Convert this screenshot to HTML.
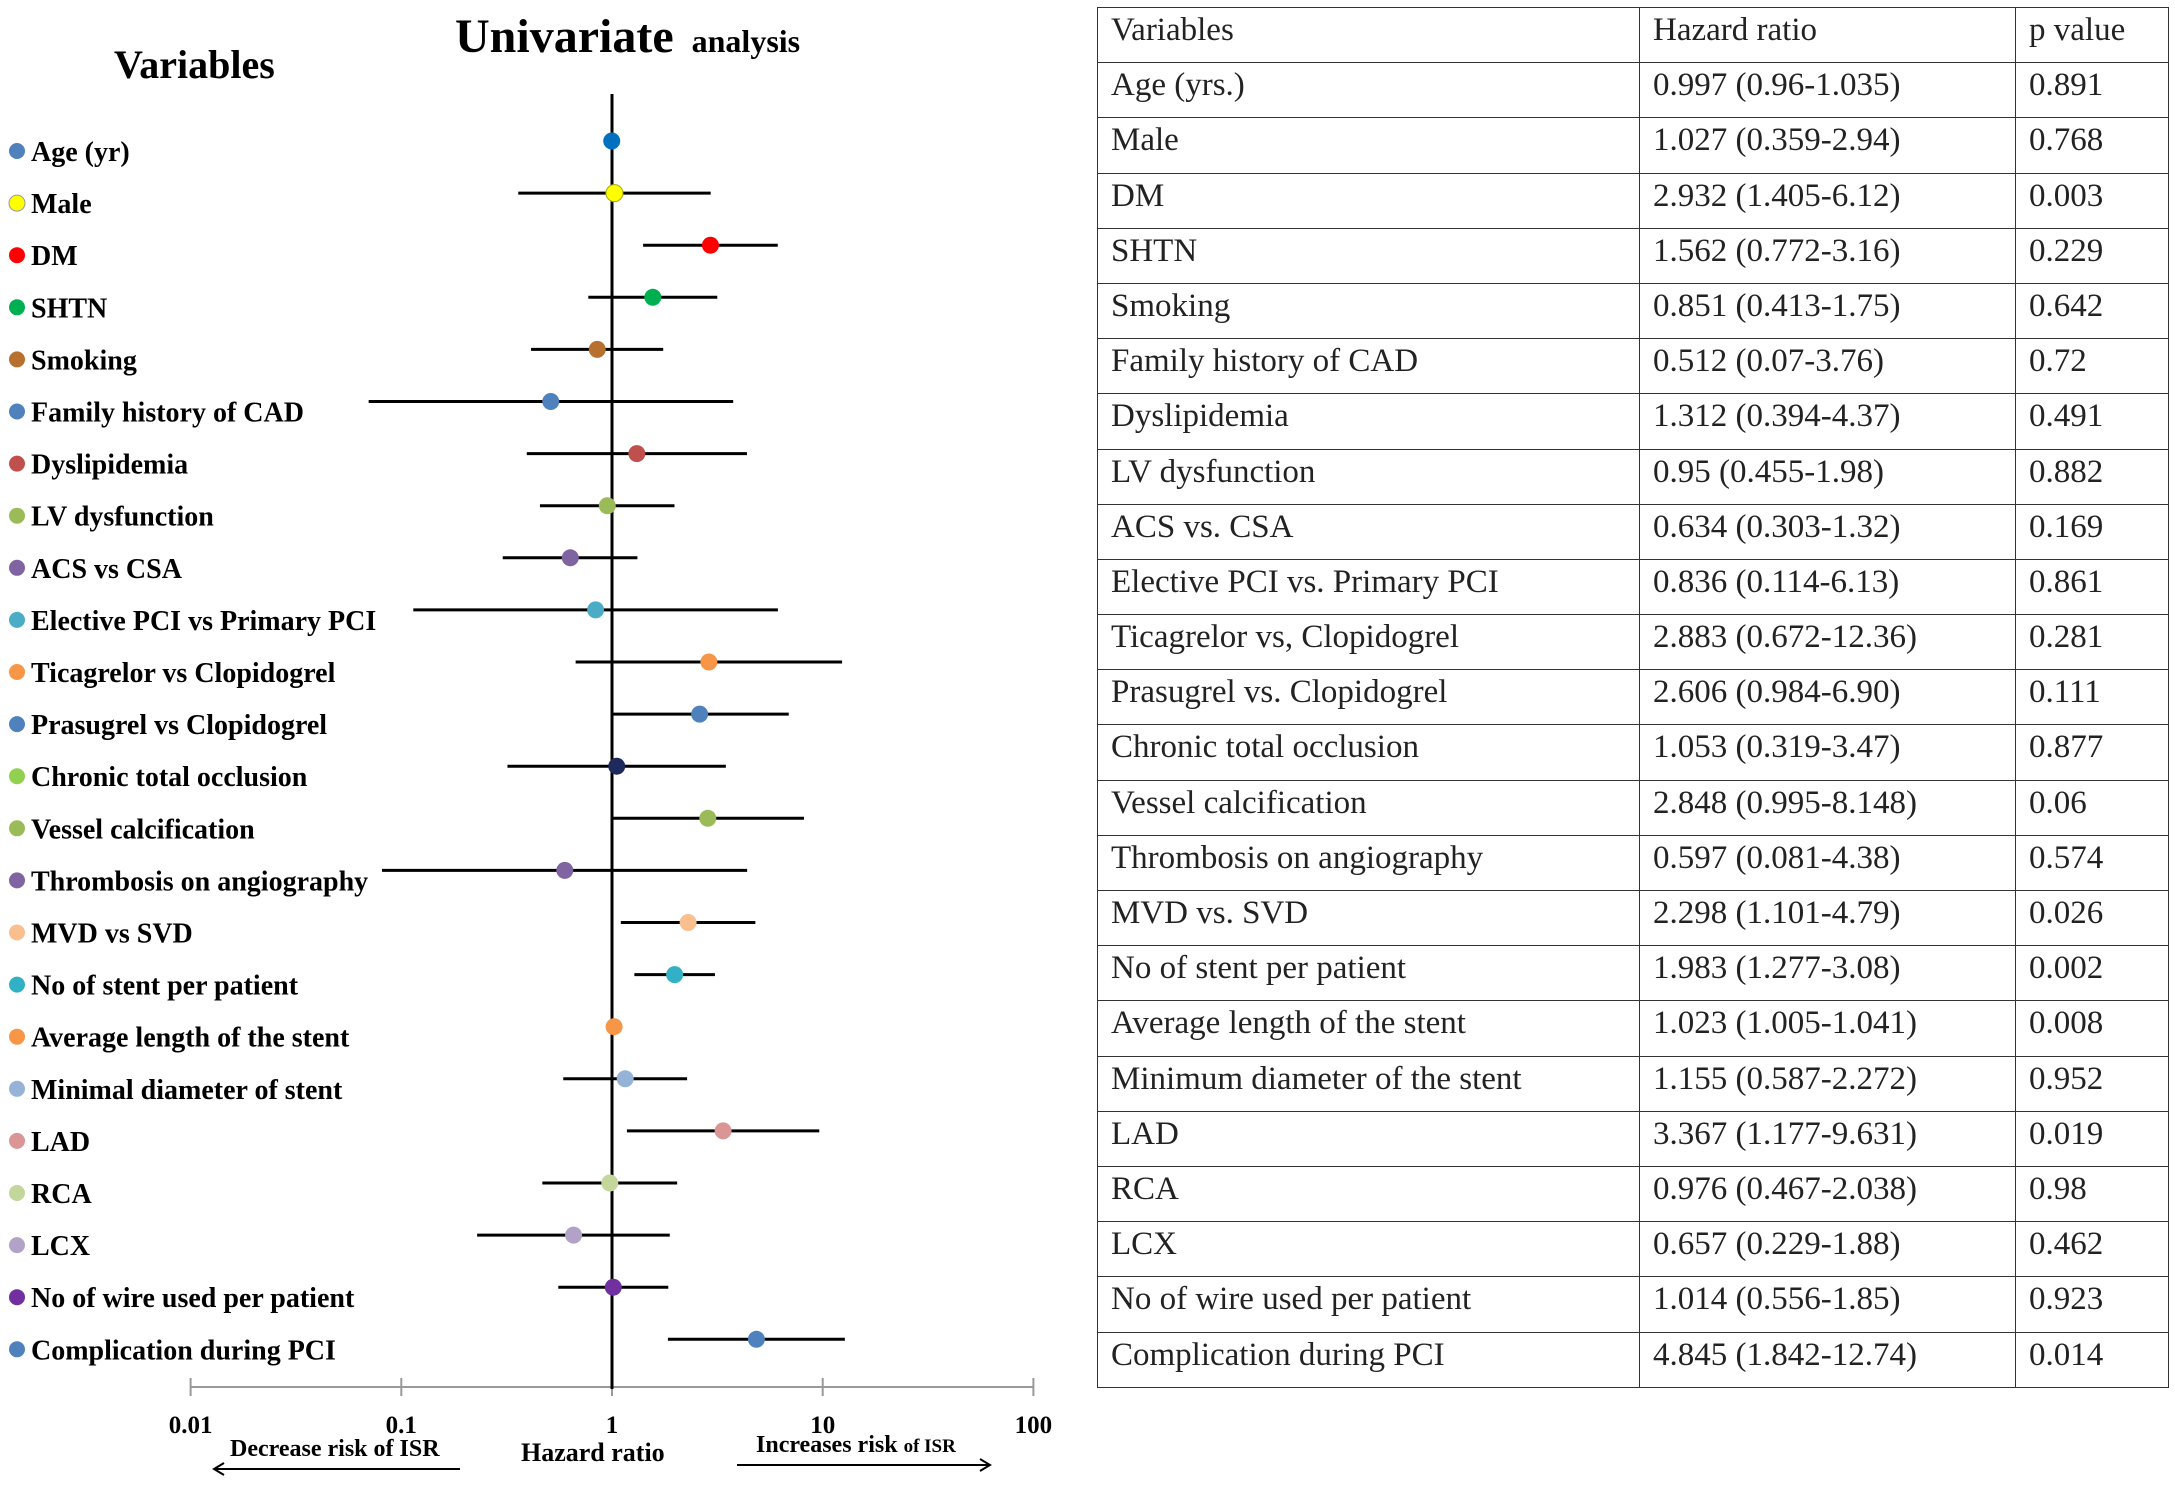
<!DOCTYPE html>
<html><head><meta charset="utf-8"><style>
html,body{margin:0;padding:0;background:#fff;}
body{width:2175px;height:1486px;position:relative;overflow:hidden;font-family:"Liberation Serif",serif;}
svg{position:absolute;left:0;top:0;}
table{position:absolute;left:1097px;top:7px;width:1072px;border-collapse:collapse;font-family:"Liberation Serif",serif;font-size:33px;color:#222;}
td{border:1.5px solid #333;height:55.2px;padding:0 0 0 13px;vertical-align:top;line-height:44px;white-space:nowrap;box-sizing:border-box;}
</style></head><body>
<svg id="chart" width="1090" height="1486">
<text x="455" y="52" font-size="48" font-weight="bold" font-family="Liberation Serif, serif">Univariate <tspan font-size="32" dx="6">analysis</tspan></text>
<text x="114" y="78" font-size="40" font-weight="bold" font-family="Liberation Serif, serif">Variables</text>
<g id="plot"></g>
</svg>
<table>
<colgroup><col style="width:542px"><col style="width:376px"><col></colgroup>
<tbody id="tb"></tbody>
</table>
<script>
const categories=["Age (yr)","Male","DM","SHTN","Smoking","Family history of CAD","Dyslipidemia","LV dysfunction","ACS vs CSA","Elective PCI vs Primary PCI","Ticagrelor vs Clopidogrel"," Prasugrel vs Clopidogrel","Chronic total occlusion","Vessel calcification","Thrombosis on angiography","MVD vs SVD","No of stent per patient","Average length of the stent","Minimal diameter of stent","LAD","RCA","LCX","No of wire used per patient","Complication during PCI"];
const hr=[0.997,1.027,2.932,1.562,0.851,0.512,1.312,0.95,0.634,0.836,2.883,2.606,1.053,2.848,0.597,2.298,1.983,1.023,1.155,3.367,0.976,0.657,1.014,4.845];
const lo=[0.96,0.359,1.405,0.772,0.413,0.07,0.394,0.455,0.303,0.114,0.672,0.984,0.319,0.995,0.081,1.101,1.277,1.005,0.587,1.177,0.467,0.229,0.556,1.842];
const hi=[1.035,2.94,6.12,3.16,1.75,3.76,4.37,1.98,1.32,6.13,12.36,6.90,3.47,8.148,4.38,4.79,3.08,1.041,2.272,9.631,2.038,1.88,1.85,12.74];
const tickVals=[0.01,0.1,1,10,100];
const tickLabels=["0.01","0.1","1","10","100"];
const tableVars=["Age (yrs.)","Male","DM","SHTN","Smoking","Family history of CAD","Dyslipidemia","LV dysfunction","ACS vs. CSA","Elective PCI vs. Primary PCI","Ticagrelor vs, Clopidogrel","Prasugrel vs. Clopidogrel","Chronic total occlusion","Vessel calcification","Thrombosis on angiography","MVD vs. SVD","No of stent per patient","Average length of the stent","Minimum diameter of the stent","LAD","RCA","LCX","No of wire used per patient","Complication during PCI"];
const tableHR=["0.997 (0.96-1.035)","1.027 (0.359-2.94)","2.932 (1.405-6.12)","1.562 (0.772-3.16)","0.851 (0.413-1.75)","0.512 (0.07-3.76)","1.312 (0.394-4.37)","0.95 (0.455-1.98)","0.634 (0.303-1.32)","0.836 (0.114-6.13)","2.883 (0.672-12.36)","2.606 (0.984-6.90)","1.053 (0.319-3.47)","2.848 (0.995-8.148)","0.597 (0.081-4.38)","2.298 (1.101-4.79)","1.983 (1.277-3.08)","1.023 (1.005-1.041)","1.155 (0.587-2.272)","3.367 (1.177-9.631)","0.976 (0.467-2.038)","0.657 (0.229-1.88)","1.014 (0.556-1.85)","4.845 (1.842-12.74)"];
const pvals=["0.891","0.768","0.003","0.229","0.642","0.72","0.491","0.882","0.169","0.861","0.281","0.111","0.877","0.06","0.574","0.026","0.002","0.008","0.952","0.019","0.98","0.462","0.923","0.014"];
const dotColors=["#0070c0","#ffff00","#ff0000","#00b050","#b8702f","#4f81bd","#c0504d","#9bbb59","#8064a2","#4bacc6","#f79646","#4f81bd","#1f2a5c","#9bbb59","#8064a2","#fabf8f","#31b0c6","#f79646","#95b3d7","#d99694","#c3d69b","#b3a2c7","#7030a0","#4f81bd"];
const labelColors=["#4f81bd","#ffff00","#ff0000","#00b050","#b8702f","#4f81bd","#c0504d","#9bbb59","#8064a2","#4bacc6","#f79646","#4f81bd","#92d050","#9bbb59","#8064a2","#fabf8f","#31b0c6","#f79646","#95b3d7","#d99694","#c3d69b","#b3a2c7","#7030a0","#4f81bd"];

const NS="http://www.w3.org/2000/svg";
const X0=612, DEC=210.7;
function xs(v){return X0+Math.log10(v)*DEC;}
const Y0=141, STEP=52.1;
function ys(i){return Y0+i*STEP;}
const g=document.getElementById('plot');
function mk(tag,attrs,parent){const e=document.createElementNS(NS,tag);for(const k in attrs)e.setAttribute(k,attrs[k]);(parent||g).appendChild(e);return e;}
const axisY=1387;
let ax=mk('line',{x1:xs(0.01),x2:xs(100),y1:axisY,y2:axisY,stroke:'#999','stroke-width':2});


tickVals.forEach((v,i)=>{
  let t=mk('line',{x1:xs(v),x2:xs(v),y1:axisY-9,y2:axisY+9,stroke:'#999','stroke-width':2});
  
  
  let l=mk('text',{x:xs(v),y:1433,'text-anchor':'middle','font-size':25,'font-weight':'bold','font-family':'Liberation Serif, serif'});
  l.textContent=tickLabels[i];
  
  
});
let ref=mk('line',{x1:X0,x2:X0,y1:94,y2:axisY+2,stroke:'#000','stroke-width':3});


categories.forEach((c,i)=>{
  const y=ys(i);
  let ld=mk('circle',{cx:17,cy:y+10,r:8,fill:labelColors[i],stroke:i==1?'#999':'none','stroke-width':1});
  
  
  let lt=mk('text',{x:31,y:y+20,'font-size':28,'font-weight':'bold','font-family':'Liberation Serif, serif'});
  lt.textContent=c;
  
  
  let ci=mk('line',{x1:xs(lo[i]),x2:xs(hi[i]),y1:y,y2:y,stroke:'#000','stroke-width':3});
  
  
  let p=mk('circle',{cx:xs(hr[i]),cy:y,r:8.5,fill:dotColors[i],stroke:i==1?'#aa0':'none','stroke-width':1});
  
  
});
function txt(x,y,s,size,name,anchor){let t=mk('text',{x:x,y:y,'font-size':size,'font-weight':'bold','font-family':'Liberation Serif, serif','text-anchor':anchor||'start'});t.textContent=s;return t;}
txt(230,1456,'Decrease risk of  ISR',24,'decrease-risk-label');
txt(521,1461,'Hazard ratio',26,'x-axis-title');
let inc=txt(756,1452,'Increases risk ',24,'increase-risk-label');
let ts=document.createElementNS(NS,'tspan');ts.setAttribute('font-size','19');ts.textContent='of ISR';inc.appendChild(ts);
let a1=mk('line',{x1:216,x2:460,y1:1469,y2:1469,stroke:'#000','stroke-width':2});


mk('path',{d:'M224 1463 L214 1469 L224 1475',fill:'none',stroke:'#000','stroke-width':2});
let a2=mk('line',{x1:737,x2:988,y1:1465,y2:1465,stroke:'#000','stroke-width':2});


mk('path',{d:'M980 1459 L990 1465 L980 1471',fill:'none',stroke:'#000','stroke-width':2});

const tb=document.getElementById('tb');
function row(a,b,c,name){const tr=document.createElement('tr');[a,b,c].forEach(s=>{const td=document.createElement('td');td.textContent=s;tr.appendChild(td);});tb.appendChild(tr);}
row('Variables','Hazard ratio','p value','table-header');
tableVars.forEach((v,i)=>row(v,tableHR[i],pvals[i],'table-row'));
</script>
</body></html>
